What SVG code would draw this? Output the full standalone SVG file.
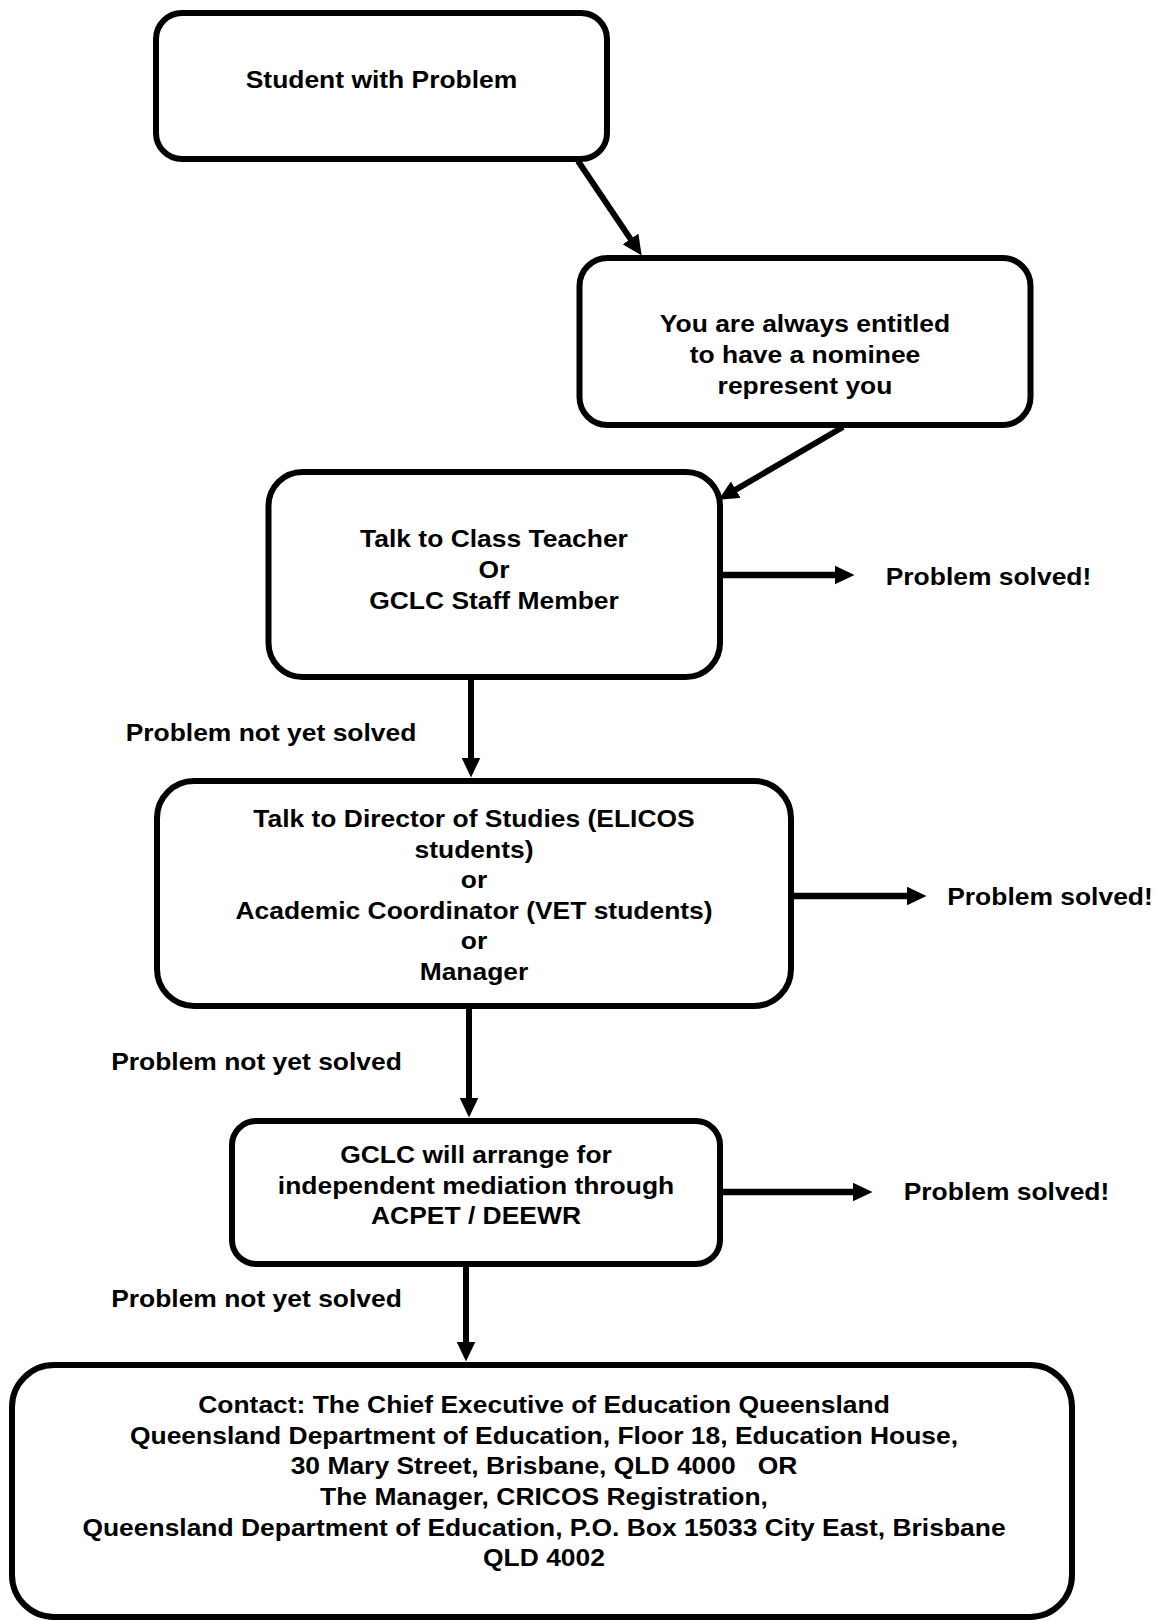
<svg xmlns="http://www.w3.org/2000/svg" width="1164" height="1621" viewBox="0 0 1164 1621">
<style>
.box{fill:#fff;stroke:#000;stroke-width:6}
.c{fill:none;stroke:#000;stroke-width:6}
.ch{fill:none;stroke:#000;stroke-width:6.5}
text{font-family:"Liberation Sans",Arial,Helvetica,sans-serif;font-weight:bold;font-size:23.5px;fill:#000;text-anchor:middle}
</style>
<defs>
<marker id="ah" viewBox="0 0 20 19" refX="0.5" refY="9.5" markerWidth="20" markerHeight="19" markerUnits="userSpaceOnUse" orient="auto">
<path d="M0,0 L20,9.5 L0,19 z" fill="#000"/>
</marker>
</defs>
<rect width="1164" height="1621" fill="#fff"/>

<g id="connectors">
<path class="c" d="M578,161 L630.8,239.4" marker-end="url(#ah)"/>
<path class="c" d="M843,427 L735.3,489.9" marker-end="url(#ah)"/>
<path class="ch" d="M720,575 L835,575" marker-end="url(#ah)"/>
<path class="c" d="M471,680 L471,758" marker-end="url(#ah)"/>
<path class="ch" d="M791,896 L907,896" marker-end="url(#ah)"/>
<path class="c" d="M469,1008 L469,1098" marker-end="url(#ah)"/>
<path class="ch" d="M720,1192 L853,1192" marker-end="url(#ah)"/>
<path class="c" d="M466,1267 L466,1342" marker-end="url(#ah)"/>
</g>

<g id="labels">
<g transform="translate(988.5 0) scale(1.125 1)"><text x="0" y="585">Problem solved!</text></g>
<g transform="translate(1050 0) scale(1.125 1)"><text x="0" y="905">Problem solved!</text></g>
<g transform="translate(1006.5 0) scale(1.125 1)"><text x="0" y="1200">Problem solved!</text></g>
<g transform="translate(271 0) scale(1.125 1)"><text x="0" y="741">Problem not yet solved</text></g>
<g transform="translate(256.5 0) scale(1.125 1)"><text x="0" y="1070">Problem not yet solved</text></g>
<g transform="translate(256.5 0) scale(1.125 1)"><text x="0" y="1307">Problem not yet solved</text></g>
</g>

<g id="node-student">
<rect class="box" x="156" y="13" width="451" height="146" rx="26" ry="26"/>
<g transform="translate(381.5 0) scale(1.125 1)"><text x="0" y="88">Student with Problem</text></g>
</g>

<g id="node-nominee">
<rect class="box" x="579.5" y="258" width="451" height="167" rx="28" ry="28"/>
<g transform="translate(805 0) scale(1.125 1)">
<text x="0" y="332">You are always entitled</text>
<text x="0" y="363">to have a nominee</text>
<text x="0" y="394">represent you</text>
</g>
</g>

<g id="node-teacher">
<rect class="box" x="268.5" y="472" width="451.5" height="205" rx="34" ry="34"/>
<g transform="translate(494 0) scale(1.125 1)">
<text x="0" y="547">Talk to Class Teacher</text>
<text x="0" y="578">Or</text>
<text x="0" y="609">GCLC Staff Member</text>
</g>
</g>

<g id="node-director">
<rect class="box" x="157" y="781" width="634" height="225" rx="37" ry="37"/>
<g transform="translate(474 0) scale(1.125 1)">
<text x="0" y="827">Talk to Director of Studies (ELICOS</text>
<text x="0" y="857.6">students)</text>
<text x="0" y="888">or</text>
<text x="0" y="918.6">Academic Coordinator (VET students)</text>
<text x="0" y="949">or</text>
<text x="0" y="980">Manager</text>
</g>
</g>

<g id="node-mediation">
<rect class="box" x="232" y="1121" width="488" height="143" rx="24" ry="24"/>
<g transform="translate(476 0) scale(1.125 1)">
<text x="0" y="1163">GCLC will arrange for</text>
<text x="0" y="1193.6">independent mediation through</text>
<text x="0" y="1224">ACPET / DEEWR</text>
</g>
</g>

<g id="node-contact">
<rect class="box" x="12" y="1365" width="1060" height="252" rx="42" ry="42"/>
<g transform="translate(544 0) scale(1.125 1)">
<text x="0" y="1413">Contact: The Chief Executive of Education Queensland</text>
<text x="0" y="1443.7">Queensland Department of Education, Floor 18, Education House,</text>
<text x="0" y="1474.4" xml:space="preserve">30 Mary Street, Brisbane, QLD 4000   OR</text>
<text x="0" y="1505.1">The Manager, CRICOS Registration,</text>
<text x="0" y="1535.8">Queensland Department of Education, P.O. Box 15033 City East, Brisbane</text>
<text x="0" y="1566.5">QLD 4002</text>
</g>
</g>
</svg>
